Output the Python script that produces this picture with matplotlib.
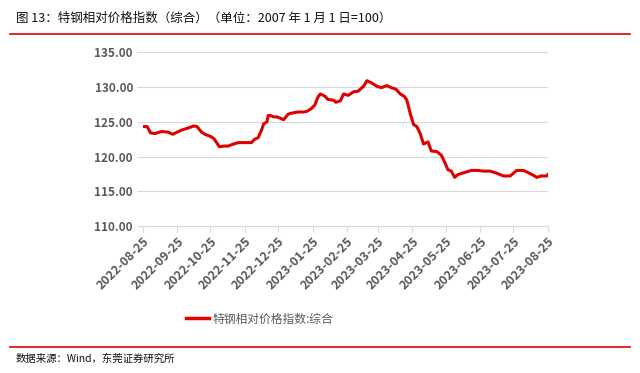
import matplotlib
matplotlib.use("Agg")
import matplotlib.pyplot as plt
import matplotlib.dates as mdates
import pandas as pd
from matplotlib.lines import Line2D

plt.rcParams['font.family'] = ['Noto Sans CJK SC', 'DejaVu Sans']

title = "图 13：特钢相对价格指数（综合）（单位：2007 年 1 月 1 日=100）"
source = "数据来源：Wind，东莞证券研究所"
series_name = "特钢相对价格指数:综合"

dates = [
    "2022-08-25", "2022-08-29", "2022-09-01", "2022-09-05", "2022-09-11", "2022-09-17",
    "2022-09-21", "2022-09-25", "2022-09-29", "2022-10-05", "2022-10-10", "2022-10-13",
    "2022-10-17", "2022-10-20", "2022-10-25", "2022-10-28", "2022-10-31", "2022-11-02",
    "2022-11-06", "2022-11-10", "2022-11-13", "2022-11-19", "2022-11-25", "2022-12-01",
    "2022-12-04", "2022-12-07", "2022-12-10", "2022-12-12", "2022-12-15", "2022-12-16",
    "2022-12-18", "2022-12-21", "2022-12-24", "2022-12-30", "2023-01-03", "2023-01-08",
    "2023-01-12", "2023-01-17", "2023-01-20", "2023-01-24", "2023-01-27", "2023-01-30",
    "2023-02-01", "2023-02-05", "2023-02-08", "2023-02-13", "2023-02-15", "2023-02-19",
    "2023-02-22", "2023-02-26", "2023-03-03", "2023-03-07", "2023-03-12", "2023-03-15",
    "2023-03-19", "2023-03-24", "2023-03-28", "2023-04-02", "2023-04-06", "2023-04-10",
    "2023-04-14", "2023-04-18", "2023-04-20", "2023-04-23", "2023-04-26", "2023-04-29",
    "2023-05-02", "2023-05-05", "2023-05-09", "2023-05-12", "2023-05-17", "2023-05-21",
    "2023-05-24", "2023-05-27", "2023-05-30", "2023-06-02", "2023-06-05", "2023-06-11",
    "2023-06-17", "2023-06-23", "2023-06-28", "2023-07-04", "2023-07-10", "2023-07-16",
    "2023-07-22", "2023-07-25", "2023-07-28", "2023-08-03", "2023-08-07", "2023-08-12",
    "2023-08-15", "2023-08-19", "2023-08-24", "2023-08-25",
]
values = [
    124.3, 124.3, 123.4, 123.3, 123.6, 123.5,
    123.2, 123.5, 123.8, 124.1, 124.4, 124.3,
    123.5, 123.2, 122.9, 122.6, 121.9, 121.4,
    121.5, 121.5, 121.7, 122.0, 122.0, 122.0,
    122.5, 122.7, 123.8, 124.7, 125.0, 125.9,
    125.9, 125.7, 125.7, 125.3, 126.1, 126.3,
    126.4, 126.4, 126.5, 126.9, 127.4, 128.6,
    129.0, 128.7, 128.2, 128.1, 127.8, 128.0,
    129.0, 128.8, 129.3, 129.4, 130.1, 130.9,
    130.6, 130.1, 129.9, 130.2, 129.9, 129.7,
    129.0, 128.6, 128.1, 126.2, 124.6, 124.3,
    123.3, 121.8, 122.1, 120.8, 120.7, 120.2,
    119.2, 118.1, 117.9, 117.0, 117.4, 117.7,
    118.0, 118.0, 117.9, 117.9, 117.6, 117.2,
    117.2, 117.6, 118.0, 118.0, 117.7, 117.3,
    117.0, 117.2, 117.2, 117.4,
]
tick_dates = [
    "2022-08-25", "2022-09-25", "2022-10-25", "2022-11-25", "2022-12-25", "2023-01-25",
    "2023-02-25", "2023-03-25", "2023-04-25", "2023-05-25", "2023-06-25", "2023-07-25",
    "2023-08-25",
]
y_ticks = [110, 115, 120, 125, 130, 135]

x = pd.to_datetime(dates)
xt = pd.to_datetime(tick_dates)

fig = plt.figure(figsize=(6.4, 3.73), dpi=100)
ax = fig.add_axes([0.223, 0.394, 0.633, 0.466])

red = '#e00000'
ax.plot(x, values, color=red, lw=2.2, solid_joinstyle='round')

ax.set_ylim(110, 135)
ax.set_yticks(y_ticks)
ax.set_yticklabels([f"{v:.2f}" for v in y_ticks])
ax.set_xlim(xt[0], xt[-1])
ax.set_xticks(xt)
ax.set_xticklabels(tick_dates, rotation=45, ha='right', rotation_mode='anchor')

ax.grid(axis='y', color='#d9d9d9', lw=0.8)
ax.set_axisbelow(True)
for s in ['top', 'right', 'left']:
    ax.spines[s].set_visible(False)
ax.spines['bottom'].set_color('#d9d9d9')
ax.tick_params(axis='y', length=4, color='#d9d9d9', labelsize=8.5, labelcolor='#595959', pad=3)
ax.tick_params(axis='x', length=4, color='#d9d9d9', labelsize=9, labelcolor='#595959', pad=2)
for lab in ax.get_yticklabels() + ax.get_xticklabels():
    lab.set_fontweight('bold')

# legend
fig.legend(handles=[Line2D([0], [0], color=red, lw=2.5)], labels=[series_name],
           loc='center', bbox_to_anchor=(0.406, 1 - 319 / 373), frameon=False,
           handlelength=1.9, handletextpad=0.3, prop={'size': 8.5},
           labelcolor='#595959')

# title & source
fig.text(16 / 640, 1 - 18 / 373, title, fontsize=9, va='center', ha='left', color='#111111')
fig.add_artist(Line2D([10 / 640, 630 / 640], [1 - 34 / 373] * 2, color=red, lw=1.2))
fig.add_artist(Line2D([10 / 640, 630 / 640], [1 - 347 / 373] * 2, color=red, lw=1.2))
fig.text(16 / 640, 1 - 359 / 373, source, fontsize=7.5, va='center', ha='left', color='#111111')

fig.savefig('out.png', dpi=100)
